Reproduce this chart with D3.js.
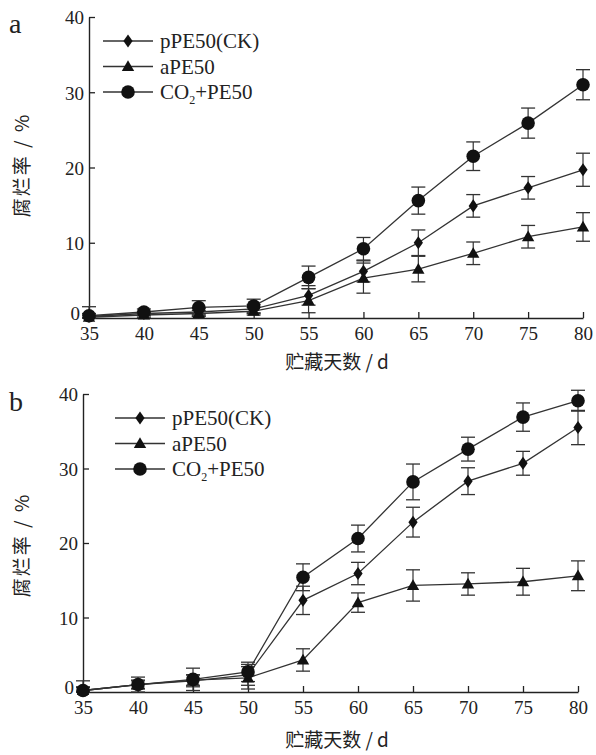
<!DOCTYPE html>
<html>
<head>
<meta charset="utf-8">
<script src="https://cdn.jsdelivr.net/npm/d3@7"></script>
<style>
  body { margin: 0; background: #fff; }
  text { font-family: "Liberation Serif", "Times New Roman", serif; fill: #222; }
  .cjk { font-family: "Noto Sans CJK SC", sans-serif; }
</style>
</head>
<body>
<svg id="chart" width="596" height="755"></svg>
<script>
// storage days
const days = [35, 40, 45, 50, 55, 60, 65, 70, 75, 80];
const series_names = ['pPE50(CK)', 'aPE50', 'CO2+PE50'];
const y_ticks = [0, 10, 20, 30, 40];

// panel a
const a_ck = [0.2, 0.6, 0.8, 1.2, 3.0, 6.2, 10.0, 14.9, 17.3, 19.7];
const a_ck_err = [0.4, 0.3, 0.5, 0.6, 1.3, 1.4, 1.7, 1.5, 1.5, 2.2];
const a_ape = [0.1, 0.4, 0.6, 0.9, 2.3, 5.3, 6.5, 8.6, 10.8, 12.1];
const a_ape_err = [0.3, 0.3, 0.4, 0.5, 1.6, 2.0, 1.7, 1.5, 1.5, 1.9];
const a_co2 = [0.3, 0.8, 1.4, 1.6, 5.4, 9.2, 15.6, 21.5, 25.9, 31.0];
const a_co2_err = [1.2, 0.4, 0.9, 0.9, 1.5, 1.5, 1.8, 1.9, 2.0, 2.0];

// panel b
const b_ck = [0.2, 1.0, 1.5, 2.3, 12.3, 15.9, 22.8, 28.3, 30.7, 35.5];
const b_ck_err = [0.5, 0.6, 0.8, 1.4, 1.9, 1.5, 2.0, 1.8, 1.6, 2.3];
const b_ape = [0.2, 1.0, 1.6, 1.9, 4.3, 12.0, 14.3, 14.5, 14.8, 15.6];
const b_ape_err = [0.4, 0.5, 0.7, 1.5, 1.5, 1.3, 2.1, 1.5, 1.8, 2.0];
const b_co2 = [0.2, 1.0, 1.7, 2.7, 15.4, 20.6, 28.2, 32.6, 36.9, 39.1];
const b_co2_err = [1.3, 1.0, 1.5, 1.3, 1.8, 1.8, 2.4, 1.6, 1.9, 1.4];

const svg = d3.select('#chart');
const ink = '#222';

function draw_marker(g, kind, x, y) {
    if (kind === 'diamond') {
        g.append('path')
            .attr('d', d3.symbol().type(d3.symbolDiamond2).size(75)())
            .attr('transform', `translate(${x},${y}) scale(0.85,1.2)`)
            .attr('fill', '#111');
    } else if (kind === 'triangle') {
        g.append('path')
            .attr('d', d3.symbol().type(d3.symbolTriangle2).size(110)())
            .attr('transform', `translate(${x},${y + 1})`)
            .attr('fill', '#111');
    } else {
        g.append('circle').attr('cx', x).attr('cy', y).attr('r', 6.8).attr('fill', '#111');
    }
}

function draw_panel(p) {
    const g = svg.append('g');
    const x = d3.scaleLinear().domain([35, 80]).range([p.x0, p.x1]);
    const y = d3.scaleLinear().domain([0, 40]).range([p.y0, p.y1]);

    // axes, ticks inward
    const xa = g.append('g').attr('transform', `translate(0,${p.y0})`)
        .call(d3.axisBottom(x).tickValues(days).tickSize(-6).tickSizeOuter(0).tickPadding(9));
    const ya = g.append('g').attr('transform', `translate(${p.x0},0)`)
        .call(d3.axisLeft(y).tickValues(y_ticks).tickSize(-6).tickSizeOuter(0).tickPadding(5));
    [xa, ya].forEach(a => {
        a.select('.domain').attr('stroke', ink).attr('stroke-width', 1.4);
        a.selectAll('.tick line').attr('stroke', ink).attr('stroke-width', 1.3);
        a.selectAll('.tick text').attr('font-size', 19).attr('fill', ink)
            .style('font-family', '"Liberation Serif", serif');
    });
    ya.selectAll('.tick text').attr('dy', '0.36em');
    // zero label sits a little up-left so it clears the 35 below it
    ya.selectAll('.tick').filter(d => d === 0).select('text').attr('dy', '0.1em').attr('x', -9);
    ya.selectAll('.tick').filter(d => d === 0).select('line').remove();

    const sets = [
        { v: p.ck, e: p.ck_err, m: 'diamond' },
        { v: p.ape, e: p.ape_err, m: 'triangle' },
        { v: p.co2, e: p.co2_err, m: 'circle' }
    ];
    const line = d3.line().x((d, i) => x(days[i])).y(d => y(d));
    sets.forEach(s => {
        g.append('path').datum(s.v).attr('d', line)
            .attr('fill', 'none').attr('stroke', '#333').attr('stroke-width', 1.3);
    });
    sets.forEach(s => {
        s.v.forEach((v, i) => {
            const cx = x(days[i]);
            const top = y(v + s.e[i]);
            const bot = y(Math.max(0, v - s.e[i]));
            g.append('line').attr('x1', cx).attr('x2', cx).attr('y1', top).attr('y2', bot)
                .attr('stroke', '#333').attr('stroke-width', 1.2);
            [top, bot].forEach(yy => g.append('line')
                .attr('x1', cx - 7).attr('x2', cx + 7).attr('y1', yy).attr('y2', yy)
                .attr('stroke', '#333').attr('stroke-width', 1.3));
        });
    });
    sets.forEach(s => {
        s.v.forEach((v, i) => draw_marker(g, s.m, x(days[i]), y(v)));
    });

    // legend
    const kinds = ['diamond', 'triangle', 'circle'];
    series_names.forEach((name, i) => {
        const ly = p.ly + i * 25.5;
        g.append('line').attr('x1', p.lx).attr('x2', p.lx + 50).attr('y1', ly).attr('y2', ly)
            .attr('stroke', '#333').attr('stroke-width', 1.3);
        draw_marker(g, kinds[i], p.lx + 25, ly);
        const t = g.append('text').attr('x', p.lx + 57).attr('y', ly + 7).attr('font-size', 21);
        if (name.startsWith('CO2')) {
            t.append('tspan').text('CO');
            t.append('tspan').text('2').attr('font-size', 12).attr('dy', 5);
            t.append('tspan').text('+PE50').attr('dy', -5);
        } else {
            t.text(name);
        }
    });

    // labels
    g.append('text').attr('x', p.lab_x).attr('y', p.lab_y).attr('font-size', 28).text(p.letter);
    g.append('text').attr('class', 'cjk').attr('x', 337).attr('y', p.xl_y)
        .attr('text-anchor', 'middle').attr('font-size', 19).attr('fill', '#333')
        .text('贮藏天数 / d');
    g.append('text').attr('class', 'cjk')
        .attr('transform', `translate(29,${p.yl_c}) rotate(-90)`)
        .attr('text-anchor', 'middle').attr('font-size', 19).attr('fill', '#333')
        .attr('letter-spacing', 2)
        .text('腐烂率 / %');
}

draw_panel({
    letter: 'a', lab_x: 9, lab_y: 33,
    x0: 89, x1: 583, y0: 318, y1: 17,
    ck: a_ck, ck_err: a_ck_err, ape: a_ape, ape_err: a_ape_err, co2: a_co2, co2_err: a_co2_err,
    lx: 103, ly: 41, xl_y: 369, yl_c: 165
});
draw_panel({
    letter: 'b', lab_x: 9, lab_y: 411,
    x0: 83, x1: 578, y0: 692, y1: 394,
    ck: b_ck, ck_err: b_ck_err, ape: b_ape, ape_err: b_ape_err, co2: b_co2, co2_err: b_co2_err,
    lx: 115, ly: 418, xl_y: 747, yl_c: 545
});
</script>
</body>
</html>
